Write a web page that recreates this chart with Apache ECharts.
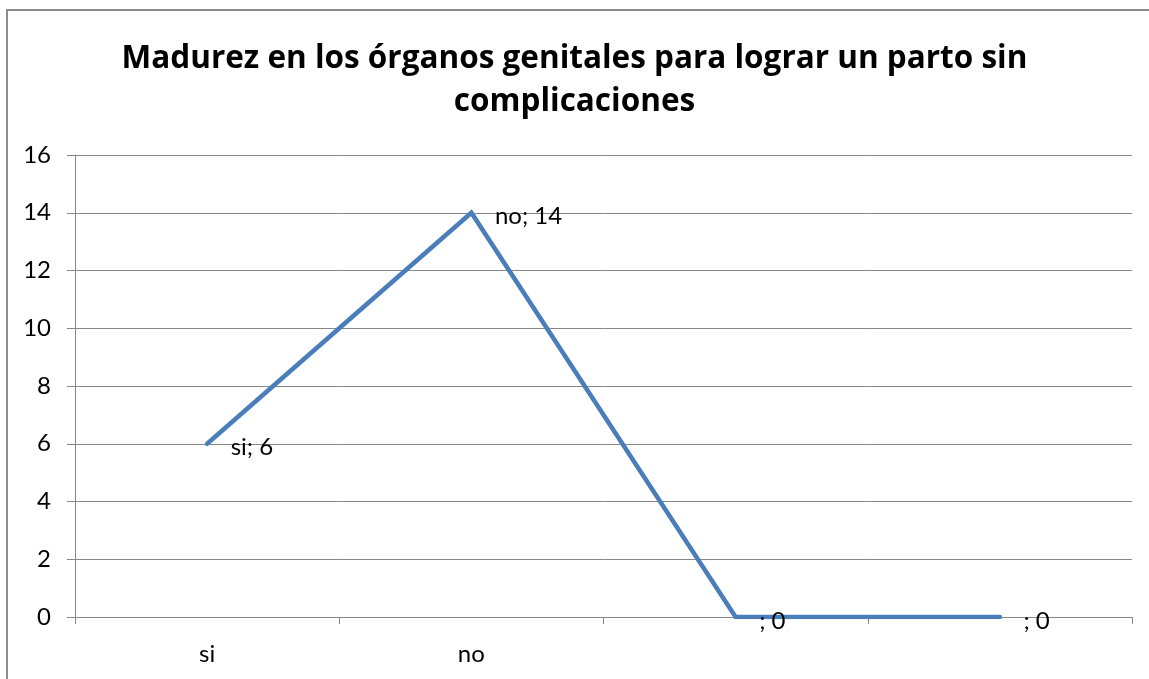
<!DOCTYPE html>
<html>
<head>
<meta charset="utf-8">
<script src="https://cdn.jsdelivr.net/npm/echarts@6/dist/echarts.min.js"></script>
<style>
  html, body { margin: 0; padding: 0; background: #fff; }
  #chart { width: 1149px; height: 679px; }
</style>
</head>
<body>
<div id="chart"></div>
<script>
var categories = ['si', 'no', '', ''];
var values = [6, 14, 0, 0];
var titleText = 'Madurez en los órganos genitales para lograr un parto sin\ncomplicaciones';

var chart = echarts.init(document.getElementById('chart'));

var option = {
  backgroundColor: '#fff',
  animation: false,
  title: {
    text: titleText,
    left: 'center',
    top: 33,
    textStyle: {
      fontFamily: '"Open Sans", Lato, sans-serif',
      fontWeight: 'bold',
      fontSize: 31.5,
      lineHeight: 43,
      color: '#000'
    }
  },
  graphic: [{
    type: 'rect',
    shape: { x: 7, y: 10, width: 1170, height: 700 },
    style: { fill: 'none', stroke: '#8c8c8c', lineWidth: 2 },
    silent: true
  }],
  grid: { left: 75, right: 17, top: 155, bottom: 62, containLabel: false },
  xAxis: {
    type: 'category',
    data: categories,
    boundaryGap: true,
    axisLine: { lineStyle: { color: '#868686', width: 1 } },
    axisTick: { show: true, alignWithLabel: false, length: 7, lineStyle: { color: '#868686' } },
    axisLabel: {
      margin: 25,
      fontFamily: 'Lato, "Open Sans", sans-serif',
      fontSize: 24,
      color: '#000'
    },
    splitLine: { show: false }
  },
  yAxis: {
    type: 'value',
    min: 0,
    max: 16,
    interval: 2,
    axisLine: { show: true, lineStyle: { color: '#868686', width: 1 } },
    axisTick: { show: true, length: 8, lineStyle: { color: '#868686' } },
    axisLabel: {
      margin: 24,
      fontFamily: 'Lato, "Open Sans", sans-serif',
      fontSize: 24,
      color: '#000'
    },
    splitLine: { show: true, lineStyle: { color: '#868686', width: 1 } }
  },
  series: [{
    type: 'line',
    data: values,
    symbol: 'circle',
    symbolSize: 1,
    showSymbol: true,
    itemStyle: { color: '#4a7ebb' },
    lineStyle: { color: '#4a7ebb', width: 4.5, cap: 'round', join: 'miter' },
    label: {
      show: true,
      position: 'right',
      distance: 23,
      offset: [0, 4],
      fontFamily: 'Lato, "Open Sans", sans-serif',
      fontSize: 24,
      color: '#000',
      formatter: function (p) { return p.name + '; ' + p.value; }
    }
  }]
};

chart.setOption(option);
</script>
</body>
</html>
